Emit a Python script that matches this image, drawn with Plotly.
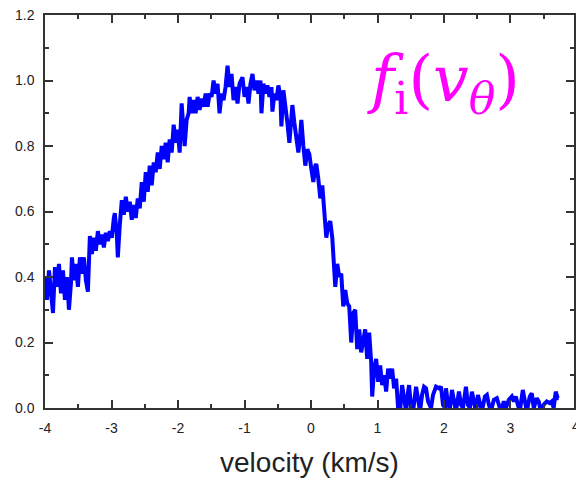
import plotly.graph_objects as go

velocity = [
    -4.000, -3.970, -3.940, -3.910, -3.880, -3.850, -3.820, -3.790, -3.760, -3.730,
    -3.700, -3.670, -3.640, -3.610, -3.595, -3.565, -3.535, -3.505, -3.475, -3.445,
    -3.415, -3.385, -3.355, -3.325, -3.295, -3.265, -3.235, -3.205, -3.175, -3.145,
    -3.115, -3.085, -3.055, -3.025, -2.995, -2.965, -2.950, -2.920, -2.905, -2.875,
    -2.845, -2.815, -2.785, -2.755, -2.725, -2.695, -2.665, -2.635, -2.605, -2.575,
    -2.545, -2.515, -2.485, -2.455, -2.425, -2.395, -2.365, -2.335, -2.305, -2.275,
    -2.245, -2.215, -2.185, -2.155, -2.125, -2.095, -2.065, -2.035, -2.005, -1.975,
    -1.945, -1.915, -1.900, -1.870, -1.840, -1.825, -1.795, -1.765, -1.735, -1.705,
    -1.675, -1.645, -1.615, -1.585, -1.555, -1.525, -1.495, -1.465, -1.435, -1.405,
    -1.375, -1.345, -1.315, -1.285, -1.255, -1.225, -1.195, -1.165, -1.135, -1.105,
    -1.075, -1.030, -1.000, -0.970, -0.940, -0.910, -0.880, -0.850, -0.820, -0.790,
    -0.760, -0.745, -0.715, -0.685, -0.655, -0.625, -0.595, -0.580, -0.550, -0.520,
    -0.490, -0.460, -0.445, -0.415, -0.385, -0.355, -0.325, -0.310, -0.280, -0.250,
    -0.220, -0.190, -0.160, -0.145, -0.115, -0.085, -0.055, -0.025, 0.005, 0.035,
    0.065, 0.080, 0.110, 0.140, 0.170, 0.200, 0.230, 0.260, 0.290, 0.320,
    0.350, 0.365, 0.395, 0.425, 0.455, 0.485, 0.515, 0.545, 0.575, 0.605,
    0.635, 0.665, 0.695, 0.725, 0.755, 0.785, 0.815, 0.845, 0.875, 0.905,
    0.920, 0.950, 0.980, 1.010, 1.040, 1.070, 1.100, 1.130, 1.160, 1.190,
    1.220, 1.250, 1.280, 1.310, 1.340, 1.370, 1.400, 1.430, 1.460, 1.475,
    1.505, 1.535, 1.580, 1.610, 1.640, 1.670, 1.700, 1.730, 1.760, 1.805,
    1.835, 1.880, 1.925, 1.955, 1.985, 2.015, 2.030, 2.060, 2.090, 2.120,
    2.150, 2.180, 2.225, 2.255, 2.285, 2.330, 2.360, 2.390, 2.420, 2.450,
    2.480, 2.510, 2.540, 2.570, 2.615, 2.645, 2.675, 2.705, 2.750, 2.795,
    2.825, 2.855, 2.900, 2.930, 2.975, 3.020, 3.050, 3.080, 3.110, 3.140,
    3.185, 3.215, 3.245, 3.290, 3.320, 3.350, 3.395, 3.425, 3.455, 3.500,
    3.545, 3.590, 3.620, 3.650, 3.680, 3.710, 3.725,
]

f_i = [
    0.40, 0.33, 0.42, 0.36, 0.29, 0.43, 0.37, 0.44, 0.35, 0.42,
    0.33, 0.40, 0.30, 0.38, 0.46, 0.39, 0.44, 0.37, 0.46, 0.41,
    0.46, 0.39, 0.355, 0.525, 0.47, 0.52, 0.48, 0.54, 0.50, 0.53,
    0.49, 0.535, 0.51, 0.54, 0.52, 0.58, 0.595, 0.53, 0.46, 0.56,
    0.635, 0.59, 0.645, 0.60, 0.63, 0.575, 0.62, 0.58, 0.64, 0.61,
    0.69, 0.63, 0.72, 0.66, 0.74, 0.68, 0.75, 0.72, 0.78, 0.73,
    0.80, 0.76, 0.81, 0.75, 0.82, 0.78, 0.865, 0.81, 0.85, 0.78,
    0.93, 0.84, 0.80, 0.88, 0.90, 0.95, 0.90, 0.94, 0.90, 0.95,
    0.91, 0.945, 0.92, 0.96, 0.92, 0.96, 0.95, 1.00, 0.96, 0.99,
    0.90, 0.96, 0.94, 0.98, 1.045, 0.98, 1.02, 0.94, 0.98, 0.93,
    0.99, 1.01, 0.95, 0.98, 0.93, 0.99, 1.02, 0.97, 1.00, 0.96,
    1.00, 0.90, 0.99, 0.96, 0.985, 0.95, 0.98, 0.905, 0.96, 0.94,
    0.985, 0.95, 0.86, 0.97, 0.93, 0.87, 0.81, 0.86, 0.925, 0.87,
    0.82, 0.78, 0.84, 0.88, 0.80, 0.74, 0.79, 0.775, 0.73, 0.69,
    0.74, 0.745, 0.70, 0.64, 0.68, 0.59, 0.52, 0.56, 0.57, 0.52,
    0.44, 0.37, 0.44, 0.40, 0.41, 0.31, 0.36, 0.32, 0.31, 0.20,
    0.29, 0.30, 0.18, 0.24, 0.17, 0.21, 0.24, 0.15, 0.23, 0.14,
    0.035, 0.12, 0.15, 0.08, 0.13, 0.07, 0.10, 0.05, 0.12, 0.09,
    0.12, 0.06, 0.09, 0.00, -0.01, 0.07, 0.02, -0.01, 0.05, 0.07,
    0.00, -0.01, 0.065, 0.02, -0.01, 0.04, 0.065, 0.06, 0.02, 0.00,
    0.04, 0.065, 0.06, 0.065, 0.01, 0.00, 0.06, 0.01, 0.00, 0.055,
    0.02, -0.01, 0.05, 0.01, 0.00, 0.065, 0.01, 0.00, 0.05, 0.01,
    -0.01, 0.04, 0.02, -0.01, 0.035, 0.04, 0.01, -0.01, 0.025, 0.03,
    0.01, -0.01, 0.02, 0.00, 0.025, 0.035, 0.02, 0.035, 0.01, -0.01,
    0.055, 0.02, -0.01, 0.035, 0.045, 0.00, 0.03, 0.02, -0.01, 0.01,
    0.02, 0.015, 0.02, 0.00, 0.05, 0.03, 0.03,
]

x_ticks = [-4, -3, -2, -1, 0, 1, 2, 3]
x_tick_text = ["-4", "-3", "-2", "-1", "0", "1", "2", "3"]
y_ticks = [0.0, 0.2, 0.4, 0.6, 0.8, 1.0, 1.2]
y_tick_text = ["0.0", "0.2", "0.4", "0.6", "0.8", "1.0", "1.2"]

axis_color = "#333333"
tick_font = dict(family="Liberation Sans, Arial, sans-serif", size=14, color="#222222")

fig = go.Figure()
fig.add_trace(go.Scatter(
    x=velocity, y=f_i, mode="lines",
    line=dict(color="#0000ff", width=4),
    showlegend=False, hoverinfo="skip",
))

fig.update_layout(
    width=576, height=478,
    margin=dict(l=45, r=0, t=15, b=70),
    paper_bgcolor="white", plot_bgcolor="white",
    xaxis=dict(
        range=[-4, 3.955], tickmode="array", tickvals=x_ticks, ticktext=x_tick_text,
        ticks="inside", ticklen=8, tickwidth=1.5, tickcolor=axis_color,
        showline=True, linecolor=axis_color, linewidth=1.5, mirror="ticks",
        showgrid=False, zeroline=False, tickfont=tick_font,
        ticklabelstandoff=6,
        minor=dict(ticks="inside", ticklen=4, tickwidth=1.5, tickcolor=axis_color, dtick=0.5, tick0=-4.5, showgrid=False),
        title=dict(text="velocity (km/s)", font=dict(family="Liberation Sans, Arial, sans-serif", size=28, color="#222222"), standoff=21),
    ),
    yaxis=dict(
        range=[0, 1.2], tickmode="array", tickvals=y_ticks, ticktext=y_tick_text,
        ticks="inside", ticklen=8, tickwidth=1.5, tickcolor=axis_color,
        showline=True, linecolor=axis_color, linewidth=1.5, mirror="ticks",
        showgrid=False, zeroline=False, tickfont=tick_font,
        ticklabelstandoff=6,
        minor=dict(ticks="inside", ticklen=4, tickwidth=1.5, tickcolor=axis_color, dtick=0.2, tick0=0.1, showgrid=False),
    ),
    annotations=[
        dict(xref="paper", yref="paper", x=1.0, y=0.0, xanchor="left", yanchor="top",
             text="4", showarrow=False, font=tick_font, xshift=-4, yshift=-8),
        dict(xref="paper", yref="paper", x=(445 - 45) / 531, y=1 - (84 - 15) / 393,
             xanchor="center", yanchor="middle", showarrow=False,
             text="<i>f</i><sub>i</sub>(<i>v</i><sub><i>θ</i></sub>)",
             font=dict(family="DejaVu Serif, serif", size=63, color="#ff00ff")),
    ],
)

fig.write_html("out.html")
